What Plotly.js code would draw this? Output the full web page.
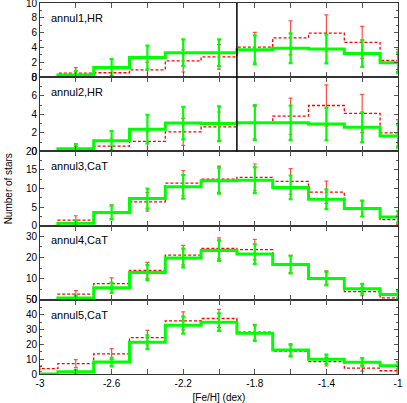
<!DOCTYPE html>
<html>
<head>
<meta charset="utf-8">
<script src="https://cdn.plot.ly/plotly-3.0.1.min.js"></script>
<style>
  html, body { margin: 0; padding: 0; background: #fff; }
  #mainChart { width: 407px; height: 403px; }
</style>
</head>
<body>
<div id="mainChart"></div>
<script>
// bin centres in [Fe/H] (dex), bins are 0.2 wide
var binCenters = [-3.0, -2.8, -2.6, -2.4, -2.2, -2.0, -1.8, -1.6, -1.4, -1.2, -1.0];
var xTickVals = [-3, -2.6, -2.2, -1.8, -1.4, -1];
var xTickLabels = ["-3", "-2.6", "-2.2", "-1.8", "-1.4", "-1"];

var panelNames = ["annul1,HR", "annul2,HR", "annul3,CaT", "annul4,CaT", "annul5,CaT"];
var panelRanges = [[0, 10], [0, 8], [0, 20], [0, 35], [0, 50]];
var panelDticks = [2, 2, 5, 10, 10];
var panelMinor = [1, 1, 2.5, 5, 5];

// null = no bin drawn
var green1 = [null, 0.3, 1.3, 2.65, 3.3, 3.3, 3.7, 3.9, 3.8, 3.2, 1.95];
var green1Err = [null, 0.55, 1.15, 1.6, 1.8, 1.8, 1.95, 2.0, 1.95, 1.8, 1.4];
var red1 = [null, 0.55, 0.6, 1.0, 2.2, 2.75, 4.05, 5.3, 5.95, 4.7, 2.25];
var red1Err = [null, 0.75, 0.75, 1.0, 1.5, 1.65, 2.0, 2.3, 2.45, 2.15, 1.5];

var green2 = [null, 0.28, 1.15, 2.4, 3.05, 3.0, 3.1, 3.1, 2.95, 2.6, 1.65];
var green2Err = [null, 0.5, 1.05, 1.55, 1.75, 1.85, 1.9, 1.85, 1.75, 1.6, 1.25];
var red2 = [null, 0.15, 0.57, 1.08, 2.1, 2.65, 3.1, 3.8, 4.95, 4.1, 2.0];
var red2Err = [null, 0.4, 0.75, 1.05, 1.45, 1.6, 1.75, 1.95, 2.22, 2.05, 1.42];

var green3 = [null, 0.6, 3.5, 7.3, 10.45, 12.1, 12.25, 10.3, 7.1, 4.6, 2.35];
var green3Err = [null, 0.8, 1.85, 2.7, 3.2, 3.5, 3.5, 3.2, 2.65, 2.15, 1.55];
var red3 = [null, 1.45, 3.7, 6.4, 11.45, 12.5, 13.0, 11.9, 9.0, 4.6, 1.6];
var red3Err = [null, 1.2, 1.9, 2.5, 3.4, 3.55, 3.6, 3.45, 3.0, 2.15, 1.25];

var green4 = [null, 0.9, 5.7, 12.9, 19.7, 23.2, 21.6, 16.6, 10.0, 5.2, 2.5];
var green4Err = [null, 0.95, 2.4, 3.6, 4.45, 4.8, 4.65, 4.1, 3.15, 2.3, 1.6];
var red4 = [null, 2.7, 7.6, 13.9, 21.1, 24.3, 23.65, 16.9, 10.4, 3.9, 0.95];
var red4Err = [null, 1.65, 2.75, 3.75, 4.6, 4.95, 4.85, 4.1, 3.2, 2.0, 1.0];

var green5 = [0, 1.6, 8.1, 21.4, 32.9, 34.9, 27.5, 16.2, 9.9, 7.9, 5.6];
var green5Err = [null, 1.25, 2.85, 4.6, 5.75, 5.9, 5.25, 4.0, 3.15, 2.8, 2.35];
var red5 = [3.6, 7.0, 13.5, 24.5, 35.8, 37.4, 28.2, 15.5, 8.3, 4.0, 2.2];
var red5Err = [1.9, 2.65, 3.65, 4.95, 6.0, 6.1, 5.3, 3.95, 2.9, 2.0, 1.5];

var greens = [green1, green2, green3, green4, green5];
var greenErrs = [green1Err, green2Err, green3Err, green4Err, green5Err];
var reds = [red1, red2, red3, red4, red5];
var redErrs = [red1Err, red2Err, red3Err, red4Err, red5Err];

var metalCut = -1.9; // vertical line in the HR panels

var GREEN = "#00ff00";
var RED = "#ff0000";
var FONT = "Liberation Sans, Arial, sans-serif";
var half = 0.1;

// histogram steps (gnuplot histeps look)
function stepTrace(levels, color, width, dash, ax) {
  var xs = [], ys = [];
  var first = true, lastX = null, lastY = null;
  for (var i = 0; i < binCenters.length; i++) {
    if (levels[i] === null) continue;
    if (first) { xs.push(binCenters[i] - half); ys.push(0); first = false; }
    xs.push(binCenters[i] - half);
    ys.push(levels[i]);
    lastX = binCenters[i] + half;
    lastY = levels[i];
  }
  xs.push(lastX); ys.push(lastY);
  return {
    x: xs, y: ys, xaxis: "x" + ax, yaxis: "y" + ax,
    mode: "lines", line: { shape: "hv", color: color, width: width, dash: dash },
    hoverinfo: "skip", showlegend: false,
  };
}

function errTrace(levels, errs, color, thick, capw, ax) {
  var xs = [], ys = [], es = [];
  for (var i = 0; i < binCenters.length; i++) {
    if (levels[i] === null || errs[i] === null) continue;
    xs.push(binCenters[i]); ys.push(levels[i]); es.push(errs[i]);
  }
  return {
    x: xs, y: ys, xaxis: "x" + ax, yaxis: "y" + ax,
    mode: "markers", marker: { size: 1, color: "rgba(0,0,0,0)" },
    error_y: { type: "data", array: es, visible: true, color: color, thickness: thick, width: capw },
    hoverinfo: "skip", showlegend: false, cliponaxis: false,
  };
}

var data = [];
var layout = {
  width: 407, height: 403,
  margin: { l: 40, r: 9, t: 3, b: 29 },
  paper_bgcolor: "#fff", plot_bgcolor: "#fff",
  font: { family: FONT, size: 10, color: "#000" },
  showlegend: false,
  annotations: [],
  shapes: [],
};

for (var p = 0; p < 5; p++) {
  var ax = p + 1;
  var axName = ax === 1 ? "" : String(ax);
  data.push(stepTrace(reds[p], RED, 1.3, "3px,2px", axName));
  data.push(errTrace(reds[p], redErrs[p], "rgba(255,0,0,0.7)", 1.2, 2, axName));
  data.push(stepTrace(greens[p], GREEN, 3, "solid", axName));
  data.push(errTrace(greens[p], greenErrs[p], GREEN, 2.2, 2, axName));

  var d0 = (4 - p) * 0.2, d1 = (5 - p) * 0.2;
  layout["xaxis" + axName] = {
    anchor: "y" + axName, domain: [0, 1], range: [-3, -1],
    matches: ax === 1 ? undefined : "x",
    tickmode: "array", tickvals: xTickVals, ticktext: xTickLabels,
    ticks: "inside", ticklen: 5, tickcolor: "#555",
    minor: { dtick: 0.2, tick0: -3, ticks: "inside", ticklen: 5, tickcolor: "#555" },
    showline: true, linecolor: "#333", linewidth: 1, mirror: "ticks",
    showgrid: false, zeroline: false,
    showticklabels: p === 4,
    tickfont: { size: 10, family: FONT },
  };
  layout["yaxis" + axName] = {
    anchor: "x" + axName, domain: [d0, d1], range: panelRanges[p],
    dtick: panelDticks[p], tick0: 0, ticks: "inside", ticklen: 4, tickcolor: "#555",
    minor: { dtick: panelMinor[p], ticks: "inside", ticklen: 2, tickcolor: "#555" },
    showline: true, linecolor: "#333", linewidth: 1, mirror: "ticks",
    showgrid: false, zeroline: false, ticklabeloverflow: "allow",
    tickfont: { size: 10, family: FONT },
  };
  layout.annotations.push({
    text: panelNames[p], xref: "x" + axName + " domain", yref: "y" + axName + " domain",
    x: 0.025, y: 0.8, xanchor: "left", yanchor: "middle", showarrow: false,
    font: { size: 11, family: FONT, color: "#000" },
  });
  if (p < 2) {
    layout.shapes.push({
      type: "line", xref: "x" + axName, yref: "y" + axName + " domain",
      x0: metalCut, x1: metalCut, y0: 0, y1: 1,
      line: { color: "#000", width: 1.5 },
    });
  }
}

layout.xaxis5.title = { text: "[Fe/H] (dex)", font: { size: 10, family: FONT }, standoff: 7 };
layout.annotations.push({
  text: "Number of stars", xref: "paper", yref: "paper", x: -0.087, y: 0.5,
  xanchor: "center", yanchor: "middle", textangle: -90, showarrow: false,
  font: { size: 10, family: FONT, color: "#000" },
});

Plotly.newPlot("mainChart", data, layout, { staticPlot: true, displayModeBar: false });
</script>
</body>
</html>
